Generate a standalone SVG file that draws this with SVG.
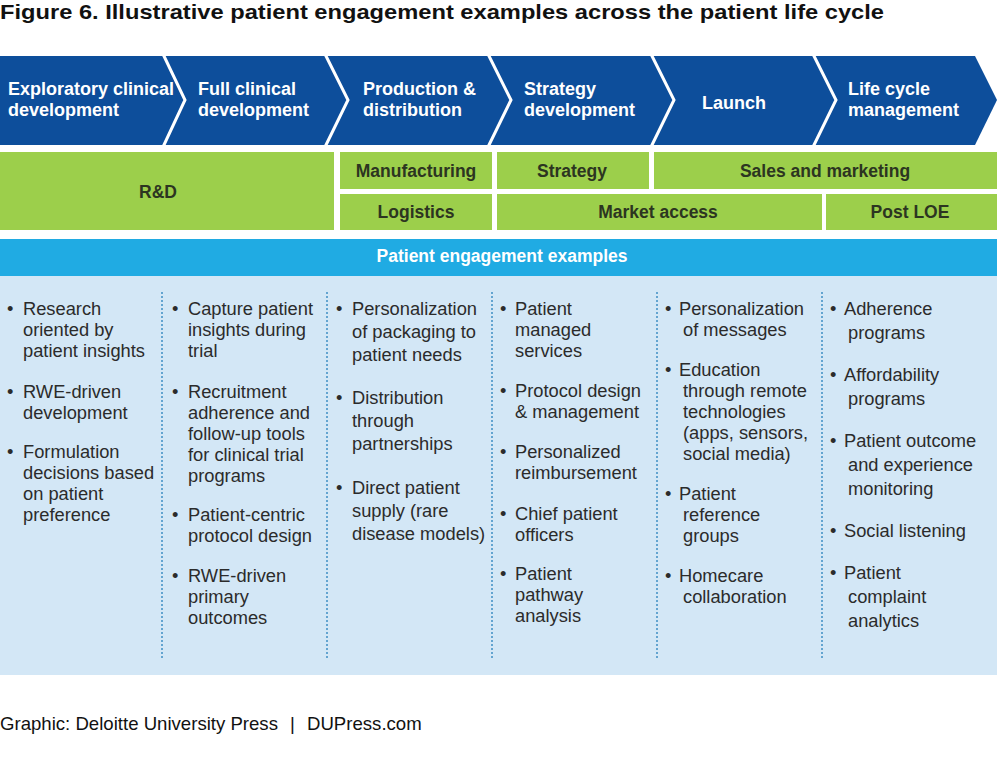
<svg xmlns="http://www.w3.org/2000/svg" width="1000" height="767" viewBox="0 0 1000 767">
<style>
.title{font-family:"Liberation Sans",Arial,sans-serif;font-weight:bold;font-size:21px;fill:#111}
.chev{font-family:"Liberation Sans",Arial,sans-serif;font-weight:bold;font-size:18px;fill:#fff}
.grn{fill:#9ccf4b}
.gt{font-family:"Liberation Sans",Arial,sans-serif;font-weight:bold;font-size:17.5px;fill:#2c3521;text-anchor:middle}
.hdr{font-family:"Liberation Sans",Arial,sans-serif;font-weight:bold;font-size:17.5px;fill:#fff;text-anchor:middle}
.b{font-family:"Liberation Sans",Arial,sans-serif;font-size:18.3px;fill:#2b2b2b}
.sep{fill:none;stroke:#fff;stroke-width:3}
.dot{stroke:#3f8fc4;stroke-width:1.5;stroke-dasharray:2 2}
.foot{font-family:"Liberation Sans",Arial,sans-serif;font-size:18.6px;fill:#111}
</style>
<rect width="1000" height="767" fill="#fff"/>
<text class="title" x="0" y="19" textLength="884" lengthAdjust="spacingAndGlyphs">Figure 6. Illustrative patient engagement examples across the patient life cycle</text>

<g id="chevrons">
<polygon points="0,56 975,56 997,100 975,145 0,145" fill="#0d4e9b"/>
<g id="sep-lines">
<polyline class="sep" points="163,54 185,100 163,147"/>
<polyline class="sep" points="325,54 348,100 325,147"/>
<polyline class="sep" points="488,54 511,100 488,147"/>
<polyline class="sep" points="651,54 674,100 651,147"/>
<polyline class="sep" points="813,54 836,100 813,147"/>
</g>
</g>
<g id="stage1"><text class="chev" x="8" y="95">Exploratory clinical</text><text class="chev" x="8" y="116">development</text></g>
<g id="stage2"><text class="chev" x="198" y="95">Full clinical</text><text class="chev" x="198" y="116">development</text></g>
<g id="stage3"><text class="chev" x="363" y="95">Production &amp;</text><text class="chev" x="363" y="116">distribution</text></g>
<g id="stage4"><text class="chev" x="524" y="95">Strategy</text><text class="chev" x="524" y="116">development</text></g>
<g id="stage5"><text class="chev" x="702" y="109">Launch</text></g>
<g id="stage6"><text class="chev" x="848" y="95">Life cycle</text><text class="chev" x="848" y="116">management</text></g>

<g id="rd"><rect class="grn" x="0" y="152" width="334" height="78"/><text class="gt" x="158" y="198">R&amp;D</text></g>
<g id="manufacturing"><rect class="grn" x="340" y="152" width="152" height="37"/><text class="gt" x="416" y="177">Manufacturing</text></g>
<g id="logistics"><rect class="grn" x="340" y="194" width="152" height="36"/><text class="gt" x="416" y="218">Logistics</text></g>
<g id="strategy"><rect class="grn" x="497" y="152" width="152" height="37"/><text class="gt" x="572" y="177">Strategy</text></g>
<g id="sales"><rect class="grn" x="654" y="152" width="343" height="37"/><text class="gt" x="825" y="177">Sales and marketing</text></g>
<g id="market-access"><rect class="grn" x="497" y="194" width="325" height="36"/><text class="gt" x="658" y="218">Market access</text></g>
<g id="post-loe"><rect class="grn" x="826" y="194" width="171" height="36"/><text class="gt" x="910" y="218">Post LOE</text></g>

<g id="header"><rect x="0" y="239" width="997" height="37" fill="#20abe3"/><text class="hdr" x="502" y="262">Patient engagement examples</text></g>
<g id="body"><rect x="0" y="276" width="997" height="399" fill="#d3e7f6"/></g>

<g id="dividers">
<line class="dot" x1="162" y1="292" x2="162" y2="660"/>
<line class="dot" x1="327" y1="292" x2="327" y2="660"/>
<line class="dot" x1="492" y1="292" x2="492" y2="660"/>
<line class="dot" x1="657" y1="292" x2="657" y2="660"/>
<line class="dot" x1="822" y1="292" x2="822" y2="660"/>
</g>

<g id="col1">
<text class="b" x="7" y="315">•</text><text class="b" x="23" y="315">Research</text><text class="b" x="23" y="336">oriented by</text><text class="b" x="23" y="357">patient insights</text>
<text class="b" x="7" y="398">•</text><text class="b" x="23" y="398">RWE-driven</text><text class="b" x="23" y="419">development</text>
<text class="b" x="7" y="458">•</text><text class="b" x="23" y="458">Formulation</text><text class="b" x="23" y="479">decisions based</text><text class="b" x="23" y="500">on patient</text><text class="b" x="23" y="521">preference</text>
</g>
<g id="col2">
<text class="b" x="172" y="315">•</text><text class="b" x="188" y="315">Capture patient</text><text class="b" x="188" y="336">insights during</text><text class="b" x="188" y="357">trial</text>
<text class="b" x="172" y="398">•</text><text class="b" x="188" y="398">Recruitment</text><text class="b" x="188" y="419">adherence and</text><text class="b" x="188" y="440">follow-up tools</text><text class="b" x="188" y="461">for clinical trial</text><text class="b" x="188" y="482">programs</text>
<text class="b" x="172" y="521">•</text><text class="b" x="188" y="521">Patient-centric</text><text class="b" x="188" y="542">protocol design</text>
<text class="b" x="172" y="582">•</text><text class="b" x="188" y="582">RWE-driven</text><text class="b" x="188" y="603">primary</text><text class="b" x="188" y="624">outcomes</text>
</g>
<g id="col3">
<text class="b" x="336" y="315">•</text><text class="b" x="352" y="315">Personalization</text><text class="b" x="352" y="338">of packaging to</text><text class="b" x="352" y="361">patient needs</text>
<text class="b" x="336" y="404">•</text><text class="b" x="352" y="404">Distribution</text><text class="b" x="352" y="427">through</text><text class="b" x="352" y="450">partnerships</text>
<text class="b" x="336" y="494">•</text><text class="b" x="352" y="494">Direct patient</text><text class="b" x="352" y="517">supply (rare</text><text class="b" x="352" y="540">disease models)</text>
</g>
<g id="col4">
<text class="b" x="500" y="315">•</text><text class="b" x="515" y="315">Patient</text><text class="b" x="515" y="336">managed</text><text class="b" x="515" y="357">services</text>
<text class="b" x="500" y="397">•</text><text class="b" x="515" y="397">Protocol design</text><text class="b" x="515" y="418">&amp; management</text>
<text class="b" x="500" y="458">•</text><text class="b" x="515" y="458">Personalized</text><text class="b" x="515" y="479">reimbursement</text>
<text class="b" x="500" y="520">•</text><text class="b" x="515" y="520">Chief patient</text><text class="b" x="515" y="541">officers</text>
<text class="b" x="500" y="580">•</text><text class="b" x="515" y="580">Patient</text><text class="b" x="515" y="601">pathway</text><text class="b" x="515" y="622">analysis</text>
</g>
<g id="col5">
<text class="b" x="665" y="315">•</text><text class="b" x="679" y="315">Personalization</text><text class="b" x="683" y="336">of messages</text>
<text class="b" x="665" y="376">•</text><text class="b" x="679" y="376">Education</text><text class="b" x="683" y="397">through remote</text><text class="b" x="683" y="418">technologies</text><text class="b" x="683" y="439">(apps, sensors,</text><text class="b" x="683" y="460">social media)</text>
<text class="b" x="665" y="500">•</text><text class="b" x="679" y="500">Patient</text><text class="b" x="683" y="521">reference</text><text class="b" x="683" y="542">groups</text>
<text class="b" x="665" y="582">•</text><text class="b" x="679" y="582">Homecare</text><text class="b" x="683" y="603">collaboration</text>
</g>
<g id="col6">
<text class="b" x="830" y="315">•</text><text class="b" x="844" y="315">Adherence</text><text class="b" x="848" y="339">programs</text>
<text class="b" x="830" y="381">•</text><text class="b" x="844" y="381">Affordability</text><text class="b" x="848" y="405">programs</text>
<text class="b" x="830" y="447">•</text><text class="b" x="844" y="447">Patient outcome</text><text class="b" x="848" y="471">and experience</text><text class="b" x="848" y="495">monitoring</text>
<text class="b" x="830" y="537">•</text><text class="b" x="844" y="537">Social listening</text>
<text class="b" x="830" y="579">•</text><text class="b" x="844" y="579">Patient</text><text class="b" x="848" y="603">complaint</text><text class="b" x="848" y="627">analytics</text>
</g>

<g id="footer">
<text class="foot" x="0" y="730">Graphic: Deloitte University Press</text>
<text class="foot" x="290" y="730">|</text>
<text class="foot" x="307" y="730">DUPress.com</text>
</g>
</svg>
